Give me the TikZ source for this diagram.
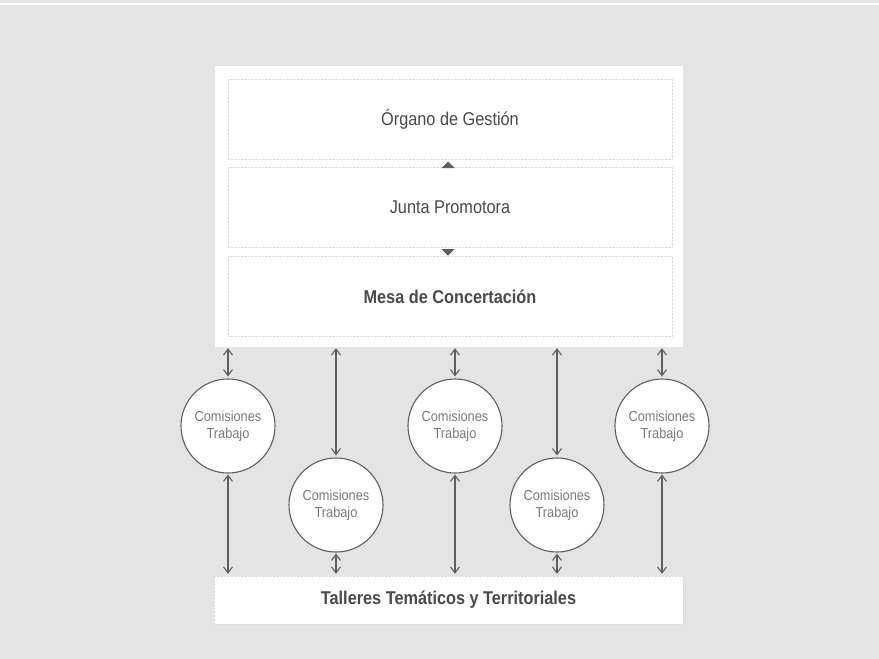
\documentclass[tikz,border=0pt]{standalone}
\usepackage{fontspec}
\setmainfont{Liberation Sans}[FakeStretch=0.88]
\usetikzlibrary{arrows.meta}
\definecolor{fondo}{HTML}{E4E4E4}
\definecolor{tinta}{HTML}{4A4A4A}
\definecolor{linea}{HTML}{5E5E5E}
\begin{document}
\begin{tikzpicture}[x=1pt,y=-1pt,
	caja/.style={draw=black!14,densely dotted,fill=white,minimum width=444pt,minimum height=80pt,inner sep=0pt,text=tinta,font=\fontsize{18.5}{20}\selectfont},
	comision/.style={circle,draw=linea,line width=1.1pt,fill=white,minimum size=94pt,inner sep=0pt,align=center,text=black!52,font=\fontsize{14.5}{17}\selectfont},
	flecha/.style={{Straight Barb[length=6pt,width=9pt]}-{Straight Barb[length=6pt,width=9pt]},draw=linea,line width=1.1pt,shorten <=1pt,shorten >=2pt}]
		\useasboundingbox(0,0)rectangle(879,659);
		\fill[fondo](0,0)rectangle(879,659);
		\fill[white](0,2.5)rectangle(879,4.5);
		\node[fill=white,minimum width=468pt,minimum height=281pt,inner sep=0pt](marco)at(449,206.5){};
		\node[caja](organo)at(450,119){Órgano de Gestión};
		\node[caja](junta)at(450,207){Junta Promotora};
		\node[caja,font=\fontsize{18.5}{20}\selectfont\bfseries](mesa)at(450,296.5){Mesa de Concertación};
		\node[caja,minimum width=469pt,minimum height=48pt,font=\fontsize{18.5}{20}\selectfont\bfseries](talleres)at(448.5,600){Talleres Temáticos y Territoriales};
		\coordinate(T1)at(448,165);
		\coordinate(T2)at(448,252);
		\fill[linea]([shift={(-6.5,3)}]T1)--([shift={(6.5,3)}]T1)--([shift={(0,-3.5)}]T1)--cycle;
		\fill[linea]([shift={(-6.5,-3)}]T2)--([shift={(6.5,-3)}]T2)--([shift={(0,3.5)}]T2)--cycle;
		\node[comision](c1)at(228,426){Comisiones\\Trabajo};
		\node[comision](c2)at(336,505){Comisiones\\Trabajo};
		\node[comision](c3)at(455,426){Comisiones\\Trabajo};
		\node[comision](c4)at(557,505){Comisiones\\Trabajo};
		\node[comision](c5)at(662,426){Comisiones\\Trabajo};
		\foreach\c in{c1,c2,c3,c4,c5}{\draw[flecha](marco.south-|\c)--(\c.north);\draw[flecha](\c.south)--(\c.south|-talleres.north);}
		\end{tikzpicture}
\end{document}
